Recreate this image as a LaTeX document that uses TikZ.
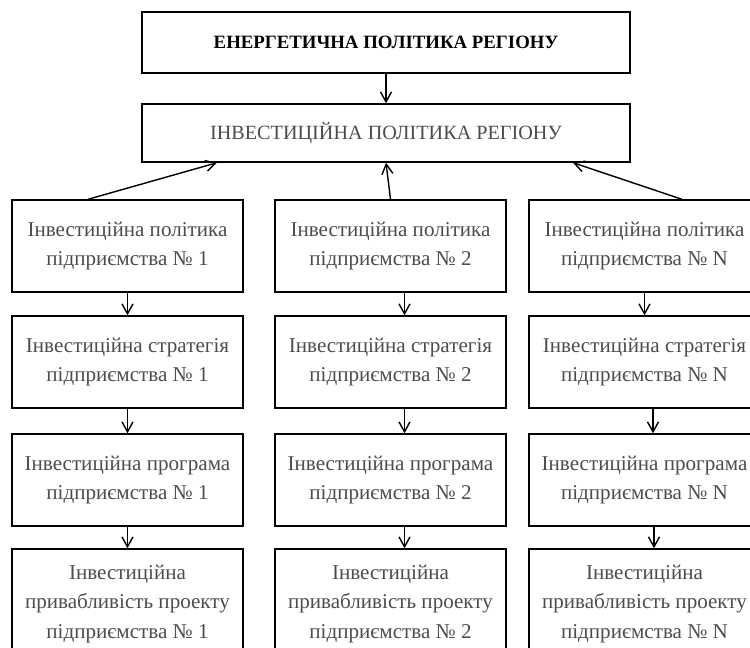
\documentclass[tikz,border=0pt]{standalone}
\usepackage{fontspec}
\setmainfont{Liberation Serif}
\usetikzlibrary{arrows.meta}
\tikzset{
  box/.style={draw, thick, align=center, text=black!70,
    font=\fontsize{12}{16.8}\selectfont,
    minimum width=4.62cm, minimum height=1.84cm, inner sep=0pt},
  topbox/.style={draw, thick, align=center,
    minimum width=9.76cm, inner sep=0pt},
  arr/.style={thick, -{Straight Barb[length=2mm,width=2.2mm]}}
}
\begin{document}
\begin{tikzpicture}[x=0.02cm, y=-0.02cm]
  \useasboundingbox (0,0) rectangle (750,648);
  % region level
  \node[topbox, minimum height=1.22cm, font=\fontsize{10.7}{12}\selectfont\bfseries] (energy) at (386,42.5) {ЕНЕРГЕТИЧНА ПОЛІТИКА РЕГІОНУ};
  \node[topbox, minimum height=1.16cm, text=black!70, font=\fontsize{11.5}{14}\selectfont] (invreg) at (386,133) {ІНВЕСТИЦІЙНА ПОЛІТИКА РЕГІОНУ};
  \draw[arr] (energy.south) -- (invreg.north);
  % enterprise 1
  \node[box] (pol1) at (127.5,246) {Інвестиційна політика\\підприємства № 1};
  \node[box] (str1) at (127.5,362) {Інвестиційна стратегія\\підприємства № 1};
  \node[box] (prg1) at (127.5,480) {Інвестиційна програма\\підприємства № 1};
  \node[box, minimum height=2.2cm] (att1) at (127.5,604) {Інвестиційна\\привабливість проекту\\підприємства № 1};
  % enterprise 2
  \node[box] (pol2) at (390.5,246) {Інвестиційна політика\\підприємства № 2};
  \node[box] (str2) at (390.5,362) {Інвестиційна стратегія\\підприємства № 2};
  \node[box] (prg2) at (390.5,480) {Інвестиційна програма\\підприємства № 2};
  \node[box, minimum height=2.2cm] (att2) at (390.5,604) {Інвестиційна\\привабливість проекту\\підприємства № 2};
  % enterprise N
  \node[box] (polN) at (644.5,246) {Інвестиційна політика\\підприємства № N};
  \node[box] (strN) at (644.5,362) {Інвестиційна стратегія\\підприємства № N};
  \node[box] (prgN) at (644.5,480) {Інвестиційна програма\\підприємства № N};
  \node[box, minimum height=2.2cm] (attN) at (644.5,604) {Інвестиційна\\привабливість проекту\\підприємства № N};
  % links to the region
  \draw[arr] ([xshift=-0.79cm]pol1.north) -- ([xshift=-3.38cm]invreg.south);
  \draw[arr] (pol2.north) -- (invreg.south);
  \draw[arr] ([xshift=0.75cm]polN.north) -- ([xshift=3.74cm]invreg.south);
  % chains
  \draw[arr] (pol1) -- (str1);
  \draw[arr] (str1) -- (prg1);
  \draw[arr] (prg1) -- (att1);
  \draw[arr] ([xshift=0.28cm]pol2.south) -- ([xshift=0.28cm]str2.north);
  \draw[arr] ([xshift=0.28cm]str2.south) -- ([xshift=0.28cm]prg2.north);
  \draw[arr] ([xshift=0.28cm]prg2.south) -- ([xshift=0.28cm]att2.north);
  \draw[arr] (polN) -- (strN);
  \draw[arr] ([xshift=0.17cm]strN.south) -- ([xshift=0.17cm]prgN.north);
  \draw[arr] ([xshift=0.19cm]prgN.south) -- ([xshift=0.19cm]attN.north);
\end{tikzpicture}
\end{document}
